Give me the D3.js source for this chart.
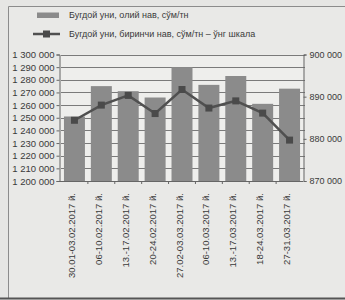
<!DOCTYPE html>
<html>
<head>
<meta charset="utf-8">
<script src="https://cdn.jsdelivr.net/npm/d3@7"></script>
<style>
  body { margin: 0; background: #e6e6e4; }
  text { font-family: "Liberation Sans", Arial, sans-serif; fill: #3a3a3a; }
</style>
</head>
<body>
<div id="chart"></div>
<script>
// data
const weeks = ["30.01-03.02.2017 й.", "06-10.02.2017 й.", "13.-17.02.2017 й.", "20-24.02.2017 й.",
  "27.02-03.03.2017 й.", "06-10.03.2017 й.", "13.-17.03.2017 й.", "18-24.03.2017 й.", "27-31.03.2017 й."];
const premium = [1251000, 1275000, 1271000, 1266000, 1290000, 1276000, 1283000, 1261000, 1273000];
const firstGrade = [884400, 888000, 890300, 886000, 891700, 887300, 889000, 886100, 879700];
const leftTicks = d3.range(1200000, 1300001, 10000);
const rightTicks = [870000, 880000, 890000, 900000];
const seriesNames = ["Бугдой уни, олий нав, сўм/тн", "Бугдой уни, биринчи нав, сўм/тн – ўнг шкала"];

const W = 345, H = 300;
const plot = {left: 61, right: 303, top: 54.5, bottom: 181};

const svg = d3.select("#chart")
  .append("svg")
  .attr("width", W)
  .attr("height", H);

// paper + frame (top and left edges only, dark strip at the bottom)
svg.append("rect")
  .attr("x", 8).attr("y", 6)
  .attr("width", W - 8).attr("height", 292)
  .attr("fill", "#e9e9e7");
svg.append("path")
  .attr("d", `M8.5,298 V6.5 H${W}`)
  .attr("fill", "none")
  .attr("stroke", "#8c8c8c")
  .attr("stroke-width", 1);
svg.append("line")
  .attr("x1", 0).attr("x2", W)
  .attr("y1", 298.5).attr("y2", 298.5)
  .attr("stroke", "#555").attr("stroke-width", 2);

// scales
const x = d3.scaleBand()
  .domain(weeks)
  .range([plot.left, plot.right])
  .paddingInner(0.22)
  .paddingOuter(0.11);

const y = d3.scaleLinear()
  .domain([1200000, 1300000])
  .range([plot.bottom, plot.top]);

const y2 = d3.scaleLinear()
  .domain([870000, 900000])
  .range([plot.bottom, plot.top]);

const fmt = d => d3.format(",")(d).replace(/,/g, " ");

// plot area background
svg.append("rect")
  .attr("x", plot.left).attr("y", plot.top)
  .attr("width", plot.right - plot.left)
  .attr("height", plot.bottom - plot.top)
  .attr("fill", "#eeeeec");

// grid lines
svg.append("g")
  .selectAll("line")
  .data(leftTicks.slice(1))
  .join("line")
  .attr("x1", plot.left).attr("x2", plot.right + 2)
  .attr("y1", d => Math.round(y(d)) + 0.5)
  .attr("y2", d => Math.round(y(d)) + 0.5)
  .attr("stroke", "#7a7a7a")
  .attr("stroke-width", 1);

// bars
svg.append("g")
  .selectAll("rect")
  .data(weeks)
  .join("rect")
  .attr("x", d => x(d))
  .attr("y", (d, i) => y(premium[i]))
  .attr("width", x.bandwidth())
  .attr("height", (d, i) => plot.bottom - y(premium[i]))
  .attr("fill", "#8b8b8b");

// left axis
const leftAxis = svg.append("g")
  .attr("transform", `translate(${plot.left - 1.5},0)`)
  .call(d3.axisLeft(y).tickValues(leftTicks).tickFormat(fmt).tickSize(3).tickPadding(2));
leftAxis.select(".domain").attr("stroke", "#666");
leftAxis.selectAll(".tick line").attr("stroke", "#666");
leftAxis.selectAll("text").style("font-size", "9.5px").attr("fill", "#3a3a3a");

// right axis
const rightAxis = svg.append("g")
  .attr("transform", `translate(${plot.right + 0.5},0)`)
  .call(d3.axisRight(y2).tickValues(rightTicks).tickFormat(fmt).tickSize(3).tickPadding(3));
rightAxis.select(".domain").attr("stroke", "#666");
rightAxis.selectAll(".tick line").attr("stroke", "#666");
rightAxis.selectAll("text").style("font-size", "9px").attr("fill", "#3a3a3a");

// bottom axis
svg.append("line")
  .attr("x1", plot.left - 1.5).attr("x2", plot.right)
  .attr("y1", plot.bottom + 0.5).attr("y2", plot.bottom + 0.5)
  .attr("stroke", "#666");
svg.append("g")
  .selectAll("line")
  .data(weeks.slice(1))
  .join("line")
  .attr("x1", d => x(d) - x.step() * x.paddingInner() / 2)
  .attr("x2", d => x(d) - x.step() * x.paddingInner() / 2)
  .attr("y1", plot.bottom)
  .attr("y2", plot.bottom + 3)
  .attr("stroke", "#666");

svg.append("g")
  .selectAll("text")
  .data(weeks)
  .join("text")
  .attr("transform", d => `translate(${x(d) + x.bandwidth() / 2 - 2},${plot.bottom + 12}) rotate(-90)`)
  .attr("text-anchor", "end")
  .attr("dominant-baseline", "middle")
  .style("font-size", "9.5px")
  .text(d => d);

// line series (right scale)
const line = d3.line()
  .x((d, i) => x(weeks[i]) + x.bandwidth() / 2)
  .y(d => y2(d));

svg.append("path")
  .datum(firstGrade)
  .attr("fill", "none")
  .attr("stroke", "#505050")
  .attr("stroke-width", 2.5)
  .attr("d", line);

svg.append("g")
  .selectAll("rect")
  .data(firstGrade)
  .join("rect")
  .attr("x", (d, i) => x(weeks[i]) + x.bandwidth() / 2 - 3.5)
  .attr("y", d => y2(d) - 3.5)
  .attr("width", 7)
  .attr("height", 7)
  .attr("fill", "#4a4a4a");

// legend
const legend = svg.append("g");
legend.append("rect")
  .attr("x", 37).attr("y", 12.5)
  .attr("width", 22).attr("height", 5.5)
  .attr("fill", "#8b8b8b");
legend.append("line")
  .attr("x1", 33).attr("x2", 60)
  .attr("y1", 34).attr("y2", 34)
  .attr("stroke", "#505050").attr("stroke-width", 2.5);
legend.append("rect")
  .attr("x", 43).attr("y", 30.5)
  .attr("width", 7).attr("height", 7)
  .attr("fill", "#4a4a4a");
legend.selectAll("text")
  .data(seriesNames)
  .join("text")
  .attr("x", 69)
  .attr("y", (d, i) => 15.5 + i * 19)
  .attr("dominant-baseline", "middle")
  .style("font-size", "9px")
  .text(d => d);
</script>
</body>
</html>
